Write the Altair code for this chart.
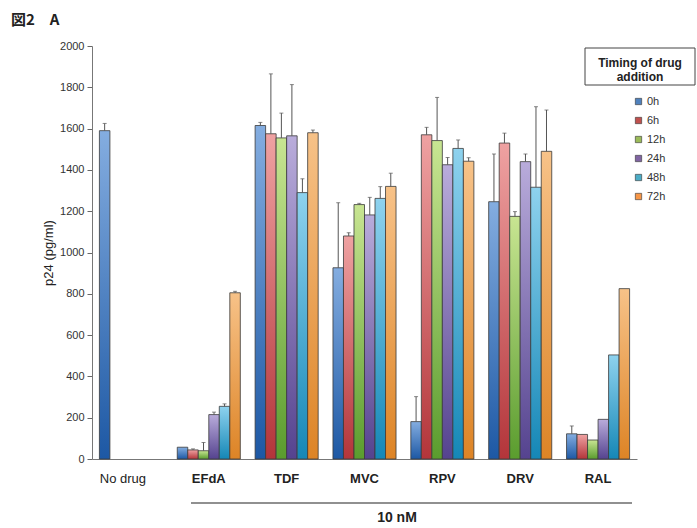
import altair as alt
import pandas as pd

categories = ["No drug", "EFdA", "TDF", "MVC", "RPV", "DRV", "RAL"]
timings = ["0h", "6h", "12h", "24h", "48h", "72h"]

# p24 (pg/ml) means per category, one value per timing (None = not measured)
val_nodrug = [1590, None, None, None, None, None]
val_efda = [57, 44, 40, 215, 255, 805]
val_tdf = [1615, 1575, 1555, 1565, 1290, 1580]
val_mvc = [926, 1080, 1232, 1182, 1262, 1320]
val_rpv = [181, 1570, 1542, 1425, 1504, 1442]
val_drv = [1246, 1530, 1175, 1440, 1316, 1490]
val_ral = [122, 119, 92, 192, 504, 825]

# upper error (SD)
err_nodrug = [35, None, None, None, None, None]
err_efda = [0, 5, 40, 12, 12, 7]
err_tdf = [15, 290, 120, 248, 67, 13]
err_mvc = [315, 16, 6, 85, 57, 64]
err_rpv = [121, 36, 209, 35, 41, 17]
err_drv = [231, 48, 23, 37, 390, 200]
err_ral = [38, 0, 0, 0, 0, 0]

flat_colors = ["#4F81BD", "#C0504D", "#9BBB59", "#8064A2", "#4BACC6", "#F79646"]
grad_top = ["#84ADE0", "#EFA2A2", "#C8E592", "#B9ACDB", "#8ED2EE", "#F7C288"]
grad_bot = ["#1D58A4", "#B3353A", "#5A9C2E", "#55438F", "#1587B6", "#DD8426"]

all_vals = [val_nodrug, val_efda, val_tdf, val_mvc, val_rpv, val_drv, val_ral]
all_errs = [err_nodrug, err_efda, err_tdf, err_mvc, err_rpv, err_drv, err_ral]

rows = []
for c, vs, es in zip(categories, all_vals, all_errs):
    for t, v, e in zip(timings, vs, es):
        if v is None:
            continue
        rows.append({"category": c, "timing": t, "value": v, "err": e,
                     "top": v + e, "zero": 0})
df = pd.DataFrame(rows)

FONT = "Liberation Sans"
W, H = 545, 413

x_enc = alt.X(
    "category:N",
    sort=categories,
    scale=alt.Scale(domain=categories, paddingInner=0.19, paddingOuter=0.095),
    axis=alt.Axis(
        title=None, ticks=False, labelAngle=0, labelPadding=13,
        labelFontSize=13, labelColor="#222", domainColor="#777",
        labelFontWeight=alt.expr("datum.value == 'No drug' ? 'normal' : 'bold'"),
        labelOffset=alt.expr("datum.value == 'No drug' ? -8 : 0"),
    ),
)
xo_enc = alt.XOffset("timing:N", sort=timings,
                     scale=alt.Scale(domain=timings, paddingInner=0, paddingOuter=0))
y_scale = alt.Scale(domain=[0, 2000], nice=False)
y_axis = alt.Axis(
    title="p24 (pg/ml)", values=list(range(0, 2001, 200)), format="d", grid=False,
    tickSize=5, labelPadding=3, labelFontSize=11, labelColor="#333",
    tickColor="#666", domainColor="#777", titleFontSize=13,
    titleFontWeight="normal", titleColor="#222", titlePadding=4,
)
y_enc = alt.Y("value:Q", scale=y_scale, axis=y_axis)

base = alt.Chart(df)

layers = []
for t, ct, cb in zip(timings, grad_top, grad_bot):
    grad = alt.LinearGradient(
        gradient="linear", x1=0, y1=0, x2=0, y2=1,
        stops=[alt.GradientStop(offset=0, color=ct),
               alt.GradientStop(offset=1, color=cb)],
    )
    layers.append(
        base.transform_filter(alt.datum.timing == t)
        .mark_bar(fill=grad, stroke="#3a3a3a", strokeWidth=0.8)
        .encode(x=x_enc, xOffset=xo_enc, y=y_enc)
    )

# zero-height bars carrying the colour legend
legend_layer = base.mark_bar().encode(
    x=x_enc, xOffset=xo_enc,
    y=alt.Y("zero:Q", scale=y_scale, axis=y_axis),
    fill=alt.Fill(
        "timing:N", sort=timings,
        scale=alt.Scale(domain=timings, range=flat_colors),
        legend=alt.Legend(
            title=None, orient="none", legendX=541, legendY=50,
            symbolType="square", symbolSize=40, symbolStrokeColor="#333",
            symbolStrokeWidth=0.6, symbolOpacity=1, labelFontSize=11,
            labelColor="#333", rowPadding=7, labelOffset=3, padding=0,
            labelFont=FONT,
        ),
    ),
)
layers.append(legend_layer)

err_base = base.transform_filter(alt.datum.err > 0)
layers.append(
    err_base.mark_rule(color="#555", strokeWidth=1).encode(
        x=x_enc, xOffset=xo_enc, y=y_enc, y2="top:Q")
)
layers.append(
    err_base.mark_tick(color="#555", size=4, thickness=1).encode(
        x=x_enc, xOffset=xo_enc, y=alt.Y("top:Q", scale=y_scale, axis=y_axis))
)

one = pd.DataFrame({"k": [0]})
deco = alt.Chart(one)
# legend title box
layers.append(deco.mark_rect(fill="white", stroke="#444", strokeWidth=1).encode(
    x=alt.value(493), x2=alt.value(603), y=alt.value(2), y2=alt.value(39)))
layers.append(deco.mark_text(text=["Timing of drug", "addition"], font=FONT,
                             fontSize=12, fontWeight="bold", color="#222",
                             lineHeight=14, baseline="middle", align="center").encode(
    x=alt.value(548), y=alt.value(17)))
# bracket line and "10 nM"
layers.append(deco.mark_rule(color="#222", strokeWidth=1.2).encode(
    x=alt.value(99), x2=alt.value(540), y=alt.value(457)))
layers.append(deco.mark_text(text="10 nM", font=FONT, fontSize=14, fontWeight="bold",
                             color="#222", align="center", baseline="middle").encode(
    x=alt.value(305), y=alt.value(472)))
# figure label
layers.append(deco.mark_text(text="図2\u3000A", font="Noto Sans CJK JP", fontSize=15,
                             fontWeight="bold", color="#222", align="left",
                             baseline="middle").encode(
    x=alt.value(-81), y=alt.value(-26)))

chart = alt.layer(*layers).properties(
    width=W, height=H,
    autosize=alt.AutoSizeParams(type="none"),
    padding={"left": 92, "top": 46, "right": 60, "bottom": 69},
).configure(font=FONT).configure_view(stroke=None)

chart.save("out.html", embed_options={"renderer": "svg", "actions": False})
